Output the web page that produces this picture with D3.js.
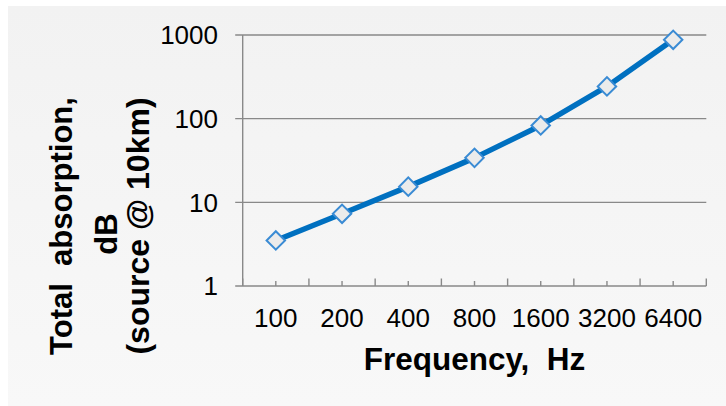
<!DOCTYPE html>
<html>
<head>
<meta charset="utf-8">
<script src="https://cdn.jsdelivr.net/npm/d3@7"></script>
<style>
  html, body { margin: 0; padding: 0; background: #ffffff; }
  svg { display: block; }
  text { font-family: Arial, "Liberation Sans", sans-serif; fill: #000; }
</style>
</head>
<body>
<svg id="chart" width="726" height="406"></svg>
<script>
const categories = ["100", "200", "400", "800", "1600", "3200", "6400"];
const absorption = [3.5, 7.3, 15.4, 34, 83, 243, 877];
const yTicks = [1, 10, 100, 1000];
const yTickLabels = ["1", "10", "100", "1000"];
const xTitle = "Frequency,\u00a0\u00a0Hz";
const yTitleLines = ["Total\u00a0\u00a0absorption,", "dB", "(source @ 10km)"];

const svg = d3.select("#chart");
const W = 726, H = 406;
const plot = { left: 242.7, right: 706.3, top: 35, bottom: 286 };
const gridColor = "#898989";

// background panel with subtle gradient
const defs = svg.append("defs");
const grad = defs.append("linearGradient").attr("id", "bg").attr("x1", 0).attr("y1", 0).attr("x2", 0).attr("y2", 1);
grad.append("stop").attr("offset", "0%").attr("stop-color", "#f2f2f2");
grad.append("stop").attr("offset", "100%").attr("stop-color", "#f8f8f8");
svg.append("rect").attr("x", 8).attr("y", 6).attr("width", W - 8).attr("height", H - 6).attr("fill", "url(#bg)");

const x = d3.scaleBand().domain(categories).range([plot.left, plot.right]).padding(0);
const y = d3.scaleLog().domain([1, 1000]).range([plot.bottom, plot.top]);

// gridlines (with outward tick)
svg.append("g").selectAll("line").data(yTicks.slice(1)).join("line")
  .attr("x1", plot.left - 7.5).attr("x2", plot.right)
  .attr("y1", d => y(d)).attr("y2", d => y(d))
  .attr("stroke", gridColor).attr("stroke-width", 1.4);

// y axis line
svg.append("line").attr("x1", plot.left).attr("x2", plot.left)
  .attr("y1", y(1000)).attr("y2", y(1))
  .attr("stroke", gridColor).attr("stroke-width", 1.4);

// x axis line
svg.append("line").attr("x1", plot.left - 7.5).attr("x2", plot.right)
  .attr("y1", y(1)).attr("y2", y(1))
  .attr("stroke", gridColor).attr("stroke-width", 1.4);

// x major ticks at category boundaries (pointing up)
const boundaries = categories.map(c => x(c)).concat([x(categories[categories.length - 1]) + x.bandwidth()]);
svg.append("g").selectAll("line").data(boundaries).join("line")
  .attr("x1", d => d).attr("x2", d => d)
  .attr("y1", y(1)).attr("y2", y(1) - 7.5)
  .attr("stroke", gridColor).attr("stroke-width", 1.4);
// x minor ticks at category centres
svg.append("g").selectAll("line").data(categories).join("line")
  .attr("x1", d => x(d) + x.bandwidth() / 2).attr("x2", d => x(d) + x.bandwidth() / 2)
  .attr("y1", y(1)).attr("y2", y(1) - 5)
  .attr("stroke", gridColor).attr("stroke-width", 1.4);

// y tick labels
svg.append("g").selectAll("text").data(yTicks).join("text")
  .attr("x", 218).attr("y", d => y(d)).attr("dy", "0.36em")
  .attr("text-anchor", "end").attr("font-size", 26)
  .text((d, i) => yTickLabels[i]);

// x tick labels
svg.append("g").selectAll("text").data(categories).join("text")
  .attr("x", d => x(d) + x.bandwidth() / 2).attr("y", 327)
  .attr("text-anchor", "middle").attr("font-size", 26)
  .text(d => d);

// x title
svg.append("text").attr("x", (plot.left + plot.right) / 2).attr("y", 369.5)
  .attr("text-anchor", "middle").attr("font-size", 31.5).attr("font-weight", "bold")
  .text(xTitle);

// y title lines
const yTitlePos = [ {bx: 72, cy: 226, fs: 31}, {bx: 117, cy: 234, fs: 31}, {bx: 148.5, cy: 226, fs: 32} ];
yTitleLines.forEach((t, i) => {
  svg.append("text")
    .attr("transform", `translate(${yTitlePos[i].bx},${yTitlePos[i].cy}) rotate(-90)`)
    .attr("text-anchor", "middle").attr("font-size", yTitlePos[i].fs).attr("font-weight", "bold")
    .text(t);
});

// series line
const line = d3.line().x((d, i) => x(categories[i]) + x.bandwidth() / 2).y(d => y(d));
svg.append("path").datum(absorption).attr("d", line)
  .attr("fill", "none").attr("stroke", "#0070c0").attr("stroke-width", 5.5)
  .attr("stroke-linejoin", "round");

// diamond markers
const sym = d3.symbol().type(d3.symbolSquare).size(170);
svg.append("g").selectAll("path").data(absorption).join("path")
  .attr("transform", (d, i) => `translate(${x(categories[i]) + x.bandwidth() / 2},${y(d)}) rotate(45)`)
  .attr("d", sym)
  .attr("fill", "#ebebeb").attr("stroke", "#3a8bd4").attr("stroke-width", 2);
</script>
</body>
</html>
